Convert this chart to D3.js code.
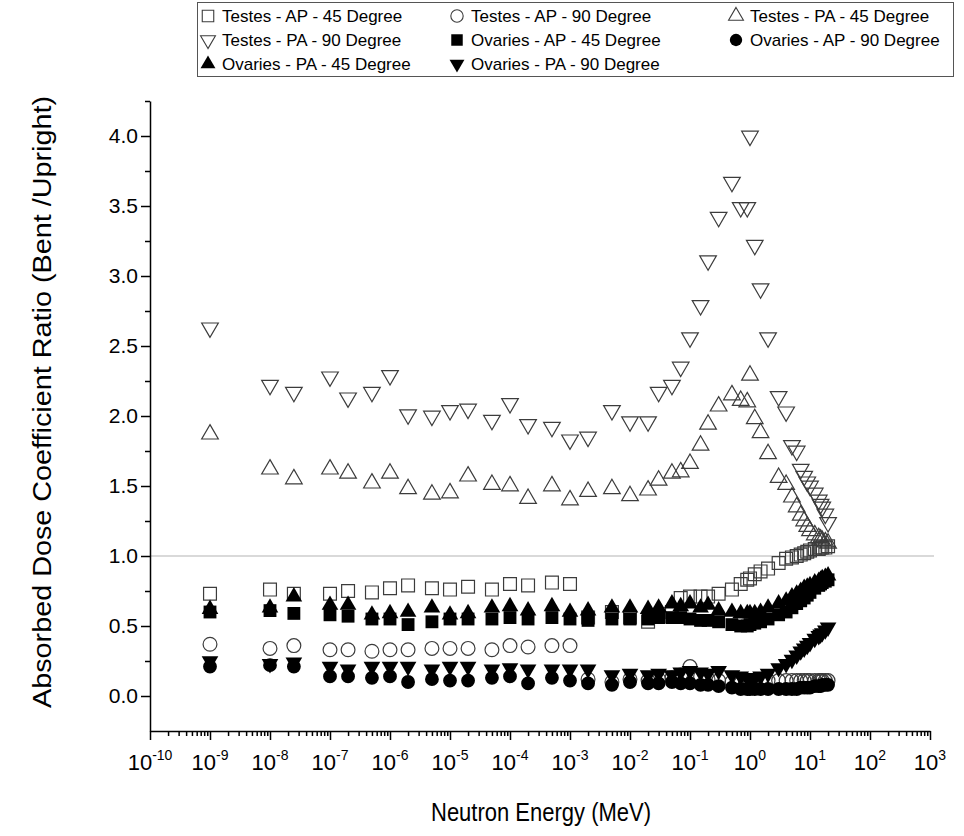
<!DOCTYPE html>
<html>
<head>
<meta charset="utf-8">
<script src="https://cdn.jsdelivr.net/npm/d3@7"></script>
<style>
  body { margin: 0; background: #fff; }
  svg { display: block; font-family: "Liberation Sans", Arial, sans-serif; }
</style>
</head>
<body>
<svg id="chart" width="964" height="836"></svg>
<script>
// neutron energies (MeV)
const energies = [1e-9, 1e-8, 2.5e-8, 1e-7, 2e-7, 5e-7, 1e-6, 2e-6, 5e-6, 1e-5, 2e-5, 5e-5, 1e-4, 2e-4, 5e-4, 1e-3,
  2e-3, 5e-3, 1e-2, 2e-2, 3e-2, 5e-2, 7e-2,
  0.1, 0.15, 0.2, 0.3, 0.5, 0.7, 0.9, 1, 1.2, 1.5, 2, 3, 4, 5, 6, 7, 8, 9, 10, 12, 14, 15, 16, 18, 20];

const testesAP45 = [0.73, 0.76, 0.73, 0.73, 0.75, 0.74, 0.77, 0.79, 0.77, 0.76, 0.78, 0.76, 0.80, 0.79, 0.81, 0.80,
  0.56, 0.60, 0.56, 0.53, 0.57, 0.60, 0.70,
  0.71, 0.71, 0.71, 0.73, 0.76, 0.80, 0.83, 0.84, 0.87, 0.89, 0.91, 0.95, 0.98, 0.99, 1.00, 1.01, 1.02, 1.03, 1.04, 1.05, 1.05, 1.06, 1.06, 1.06, 1.07];
const testesAP90 = [0.37, 0.34, 0.36, 0.33, 0.33, 0.32, 0.33, 0.33, 0.34, 0.34, 0.34, 0.33, 0.36, 0.35, 0.36, 0.36,
  0.12, 0.10, 0.12, 0.11, 0.12, 0.13, 0.15,
  0.21, 0.14, 0.12, 0.11, 0.10, 0.09, 0.09, 0.09, 0.10, 0.11, 0.11, 0.11, 0.11, 0.11, 0.11, 0.11, 0.11, 0.11, 0.11, 0.11, 0.11, 0.11, 0.11, 0.11, 0.11];
const testesPA45 = [1.87, 1.62, 1.55, 1.62, 1.59, 1.52, 1.59, 1.48, 1.44, 1.45, 1.57, 1.51, 1.50, 1.41, 1.50, 1.40,
  1.46, 1.48, 1.43, 1.47, 1.54, 1.59, 1.60,
  1.66, 1.79, 1.94, 2.07, 2.15, 2.11, 2.10, 2.29, 1.98, 1.88, 1.73, 1.56, 1.51, 1.42, 1.35, 1.29, 1.25, 1.21, 1.18, 1.15, 1.13, 1.12, 1.11, 1.10, 1.09];
const testesPA90 = [2.63, 2.22, 2.17, 2.28, 2.13, 2.17, 2.29, 2.01, 2.00, 2.04, 2.05, 1.97, 2.09, 1.94, 1.92, 1.83,
  1.85, 2.04, 1.96, 1.96, 2.17, 2.22, 2.35,
  2.56, 2.79, 3.11, 3.42, 3.67, 3.49, 3.49, 4.00, 3.22, 2.91, 2.56, 2.14, 2.03, 1.79, 1.75, 1.62, 1.57, 1.53, 1.50, 1.45, 1.40, 1.37, 1.35, 1.30, 1.24];
const ovariesAP45 = [0.60, 0.61, 0.59, 0.58, 0.57, 0.55, 0.55, 0.51, 0.53, 0.55, 0.55, 0.55, 0.56, 0.55, 0.56, 0.55,
  0.54, 0.55, 0.55, 0.55, 0.56, 0.56, 0.56,
  0.55, 0.54, 0.54, 0.53, 0.51, 0.50, 0.50, 0.51, 0.52, 0.53, 0.55, 0.58, 0.60, 0.63, 0.66, 0.68, 0.70, 0.72, 0.74, 0.77, 0.79, 0.80, 0.81, 0.82, 0.83];
const ovariesAP90 = [0.21, 0.22, 0.21, 0.14, 0.14, 0.13, 0.14, 0.10, 0.12, 0.11, 0.11, 0.13, 0.14, 0.09, 0.13, 0.11,
  0.09, 0.08, 0.10, 0.09, 0.09, 0.10, 0.09,
  0.09, 0.08, 0.08, 0.07, 0.06, 0.05, 0.05, 0.05, 0.05, 0.05, 0.05, 0.05, 0.05, 0.05, 0.05, 0.06, 0.06, 0.06, 0.06, 0.07, 0.07, 0.07, 0.08, 0.08, 0.08];
const ovariesPA45 = [0.62, 0.63, 0.71, 0.65, 0.65, 0.58, 0.59, 0.60, 0.63, 0.58, 0.59, 0.63, 0.64, 0.61, 0.64, 0.60,
  0.61, 0.63, 0.63, 0.62, 0.63, 0.66, 0.64,
  0.66, 0.63, 0.65, 0.61, 0.60, 0.59, 0.59, 0.59, 0.59, 0.60, 0.63, 0.66, 0.68, 0.71, 0.73, 0.75, 0.77, 0.78, 0.79, 0.81, 0.82, 0.83, 0.84, 0.85, 0.86];
const ovariesPA90 = [0.25, 0.23, 0.24, 0.21, 0.19, 0.21, 0.21, 0.21, 0.19, 0.21, 0.21, 0.19, 0.20, 0.19, 0.19, 0.19,
  0.19, 0.15, 0.16, 0.15, 0.16, 0.15, 0.17,
  0.18, 0.17, 0.16, 0.18, 0.15, 0.14, 0.13, 0.13, 0.13, 0.14, 0.16, 0.20, 0.23, 0.26, 0.29, 0.32, 0.34, 0.36, 0.38, 0.41, 0.43, 0.44, 0.45, 0.47, 0.49];

const seriesNames = ['Testes - AP - 45 Degree', 'Testes - AP - 90 Degree', 'Testes - PA - 45 Degree',
  'Testes - PA - 90 Degree', 'Ovaries - AP - 45 Degree', 'Ovaries - AP - 90 Degree',
  'Ovaries - PA - 45 Degree', 'Ovaries - PA - 90 Degree'];
const yTickValues = [0, 0.5, 1.0, 1.5, 2.0, 2.5, 3.0, 3.5, 4.0];
const xExponents = [-10, -9, -8, -7, -6, -5, -4, -3, -2, -1, 0, 1, 2, 3];

// marker type per series: shape + hollow/filled
const markers = [
  { shape: 'square', filled: false }, { shape: 'circle', filled: false },
  { shape: 'up', filled: false }, { shape: 'down', filled: false },
  { shape: 'square', filled: true }, { shape: 'circle', filled: true },
  { shape: 'up', filled: true }, { shape: 'down', filled: true }
];
const seriesValues = [testesAP45, testesAP90, testesPA45, testesPA90, ovariesAP45, ovariesAP90, ovariesPA45, ovariesPA90];
const series = seriesNames.map((name, i) => ({
  name, ...markers[i],
  points: energies.map((e, j) => ({ e, v: seriesValues[i][j] }))
}));

const svg = d3.select('#chart');
const x = d3.scaleLog().domain([1e-10, 1e3]).range([150, 930]);
const y = d3.scaleLinear().domain([-0.25, 4.25]).range([731, 101]);

const symbolFor = (shape, k) => {
  const size = { square: 165, circle: 150, up: 120, down: 120 }[shape] * k;
  const type = shape === 'square' ? d3.symbolSquare : shape === 'circle' ? d3.symbolCircle : d3.symbolTriangle;
  return d3.symbol().type(type).size(size)();
};
const rot = shape => shape === 'down' ? ' rotate(180)' : '';

// reference line at 1.0
svg.append('line')
  .attr('x1', x(1e-10)).attr('x2', x(1e3) + 4)
  .attr('y1', y(1)).attr('y2', y(1))
  .attr('stroke', '#b4b4b4').attr('stroke-width', 1.2);

// points
series.forEach(s => {
  svg.append('g').selectAll('path')
    .data(s.points).enter().append('path')
    .attr('d', symbolFor(s.shape, 1))
    .attr('transform', d => `translate(${x(d.e)},${y(d.v)})${rot(s.shape)}`)
    .attr('fill', s.filled ? '#000' : 'none')
    .attr('stroke', s.filled ? 'none' : '#3c3c3c')
    .attr('stroke-width', 1.2);
});

// x axis
const majorX = xExponents.map(p => Math.pow(10, p));
const minorX = [];
xExponents.slice(0, -1).forEach(p => {
  for (let m = 2; m <= 9; m++) minorX.push(m * Math.pow(10, p));
});
const xAxisG = svg.append('g').attr('transform', `translate(0,${y(-0.25)})`);
xAxisG.append('g')
  .call(d3.axisBottom(x).tickValues(minorX).tickSize(5).tickSizeOuter(0).tickFormat(''))
  .call(g => g.select('.domain').remove());
xAxisG.append('g')
  .call(d3.axisBottom(x).tickValues(majorX).tickSize(9).tickSizeOuter(0).tickFormat(''));
xAxisG.selectAll('line, path').attr('stroke', '#000').attr('stroke-width', 1.5);

const xLab = svg.append('g').selectAll('text')
  .data(xExponents).enter().append('text')
  .attr('x', p => x(Math.pow(10, p)))
  .attr('y', 770)
  .attr('text-anchor', 'middle')
  .style('font-size', '22px');
xLab.append('tspan').text('10');
xLab.append('tspan').attr('dy', -10).style('font-size', '14px').text(p => p);

// y axis
const minorY = d3.range(0.25, 4.3, 0.5);
const yAxisG = svg.append('g').attr('transform', `translate(${x(1e-10)},0)`);
yAxisG.append('g')
  .call(d3.axisLeft(y).tickValues(minorY).tickSize(5).tickSizeOuter(0).tickFormat(''))
  .call(g => g.select('.domain').remove());
yAxisG.append('g')
  .call(d3.axisLeft(y).tickValues(yTickValues).tickSize(9).tickSizeOuter(0).tickPadding(3).tickFormat(d3.format('.1f')))
  .call(g => g.selectAll('text').style('font-size', '21px').attr('fill', '#000'));
yAxisG.selectAll('line, path').attr('stroke', '#000').attr('stroke-width', 1.5);

// axis titles
svg.append('text')
  .attr('x', 541).attr('y', 821)
  .attr('text-anchor', 'middle')
  .attr('textLength', 220).attr('lengthAdjust', 'spacingAndGlyphs')
  .style('font-size', '25px')
  .text('Neutron Energy (MeV)');
svg.append('text')
  .attr('transform', 'translate(51,402) rotate(-90)')
  .attr('text-anchor', 'middle')
  .attr('textLength', 612).attr('lengthAdjust', 'spacingAndGlyphs')
  .style('font-size', '25px')
  .text('Absorbed Dose Coefficient Ratio  (Bent /Upright)');

// legend
const legend = svg.append('g');
legend.append('rect')
  .attr('x', 197.5).attr('y', 2.5).attr('width', 756).attr('height', 74)
  .attr('fill', '#fff').attr('stroke', '#555').attr('stroke-width', 1);
const colX = [208, 457, 736];
const rowY = [16, 40, 64];
const items = legend.selectAll('g.item')
  .data(series).enter().append('g')
  .attr('transform', (d, i) => `translate(${colX[i % 3]},${rowY[Math.floor(i / 3)]})`);
items.append('path')
  .attr('d', d => symbolFor(d.shape, 0.8))
  .attr('transform', d => rot(d.shape).trim())
  .attr('fill', d => d.filled ? '#000' : 'none')
  .attr('stroke', d => d.filled ? 'none' : '#3c3c3c')
  .attr('stroke-width', 1.1);
items.append('text')
  .attr('x', 14).attr('y', 6)
  .style('font-size', '17px')
  .text(d => d.name);
</script>
</body>
</html>
